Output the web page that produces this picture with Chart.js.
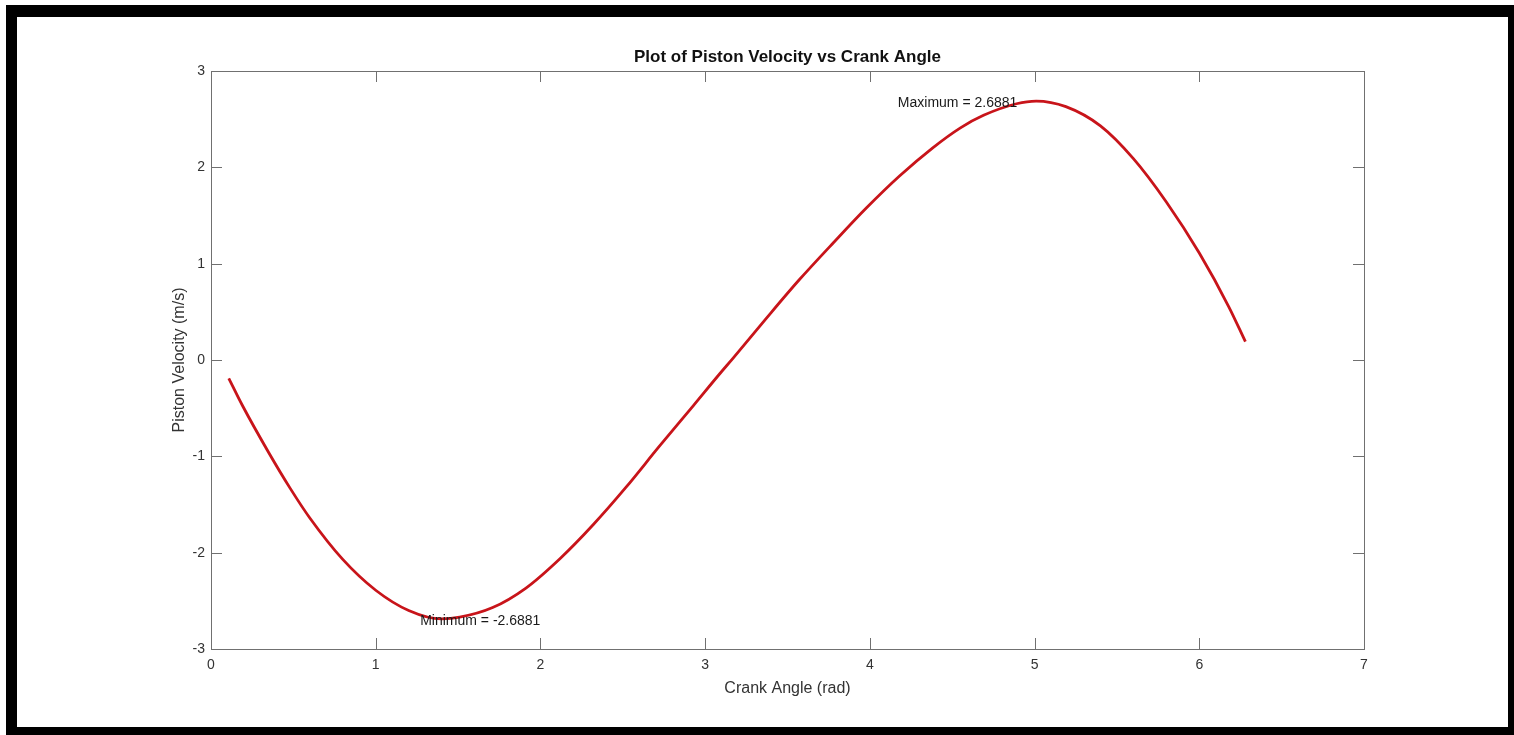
<!DOCTYPE html>
<html>
<head>
<meta charset="utf-8">
<script src="https://cdn.jsdelivr.net/npm/chart.js@4/dist/chart.umd.min.js"></script>
<style>
    html, body { margin: 0; padding: 0; background: #fff; }
    #wrap { position: relative; width: 1514px; height: 735px; overflow: hidden; }
    #plot { position: absolute; left: 0; top: 0; }
    #frame {
        position: absolute; left: 6px; top: 5px; width: 1508px; height: 730px;
        box-sizing: border-box;
        border-top: 12px solid #000; border-left: 11px solid #000;
        border-right: 6px solid #000; border-bottom: 8px solid #000;
        pointer-events: none;
    }
</style>
</head>
<body>
<div id="wrap">
    <canvas id="plot" width="1514" height="735"></canvas>
    <div id="frame"></div>
</div>
<script>
// values
const crankAngle = [0.108, 0.19, 0.35, 0.48, 0.6, 0.8, 1.0, 1.2, 1.4, 1.51, 1.71, 1.91, 2.12, 2.32, 2.52, 2.72, 2.93, 3.09, 3.17, 3.37, 3.57, 3.78, 3.98, 4.18, 4.38, 4.55, 4.69, 4.89, 5.01, 5.19, 5.4, 5.6, 5.8, 6.0, 6.18, 6.28];
const pistonVelocity = [-0.19, -0.47, -0.96, -1.33, -1.64, -2.07, -2.39, -2.6, -2.688, -2.67, -2.57, -2.37, -2.06, -1.71, -1.32, -0.9, -0.47, -0.14, 0.02, 0.43, 0.83, 1.22, 1.58, 1.91, 2.2, 2.41, 2.54, 2.66, 2.688, 2.63, 2.43, 2.09, 1.64, 1.11, 0.55, 0.19];
const xTicks = [0, 1, 2, 3, 4, 5, 6, 7];
const yTicks = [-3, -2, -1, 0, 1, 2, 3];
const chartTitle = "Plot of Piston Velocity vs Crank Angle";
const notes = [
    { text: "Minimum = -2.6881", x: 1.27, y: -2.71 },
    { text: "Maximum = 2.6881", x: 4.17, y: 2.67 }
];

const FONT = "'Liberation Sans', Arial, Helvetica, sans-serif";
const points = crankAngle.map((a, i) => ({ x: a, y: pistonVelocity[i] }));

// MATLAB style box with ticks pointing inwards, title over the axes, text labels
const boxPlugin = {
    id: "box",
    afterDatasetsDraw(chart) {
        const { ctx, chartArea: a, scales } = chart;
        const len = 11;
        ctx.save();
        ctx.strokeStyle = "#707070";
        ctx.lineWidth = 1;
        ctx.strokeRect(a.left + 0.5, a.top + 0.5, a.right - a.left, a.bottom - a.top);
        ctx.beginPath();
        xTicks.forEach(v => {
            const px = Math.round(scales.x.getPixelForValue(v)) + 0.5;
            ctx.moveTo(px, a.bottom); ctx.lineTo(px, a.bottom - len);
            ctx.moveTo(px, a.top); ctx.lineTo(px, a.top + len);
        });
        yTicks.forEach(v => {
            const py = Math.round(scales.y.getPixelForValue(v)) + 0.5;
            ctx.moveTo(a.left, py); ctx.lineTo(a.left + len, py);
            ctx.moveTo(a.right, py); ctx.lineTo(a.right - len, py);
        });
        ctx.stroke();

        ctx.fillStyle = "#111";
        ctx.font = "bold 17px " + FONT;
        ctx.textAlign = "center";
        ctx.textBaseline = "middle";
        ctx.fillText(chartTitle, (a.left + a.right) / 2, a.top - 14);

        ctx.fillStyle = "#1a1a1a";
        ctx.font = "14px " + FONT;
        ctx.textAlign = "left";
        notes.forEach(n => {
            ctx.fillText(n.text, scales.x.getPixelForValue(n.x), scales.y.getPixelForValue(n.y));
        });
        ctx.restore();
    }
};

new Chart(document.getElementById("plot"), {
    type: "line",
    data: {
        datasets: [{
            data: points,
            borderColor: "#c8141a",
            borderWidth: 2.8,
            pointRadius: 0,
            fill: false,
            cubicInterpolationMode: "monotone"
        }]
    },
    options: {
        responsive: false,
        animation: false,
        layout: { padding: { left: 0, top: 71, right: 150, bottom: 0 } },
        plugins: {
            legend: { display: false },
            tooltip: { enabled: false },
            title: { display: false }
        },
        scales: {
            x: {
                type: "linear",
                min: 0, max: 7,
                afterFit: s => { s.height = 86; },
                afterBuildTicks: s => { s.ticks = xTicks.map(v => ({ value: v })); },
                grid: { display: false, drawTicks: false },
                border: { display: false },
                ticks: { color: "#333", padding: 8, font: { family: FONT, size: 14 } },
                title: {
                    display: true, text: "Crank Angle (rad)", color: "#333",
                    font: { family: FONT, size: 16 }, padding: { top: 0, bottom: 36.4 }
                }
            },
            y: {
                min: -3, max: 3,
                afterFit: s => { s.width = 211; },
                afterBuildTicks: s => { s.ticks = yTicks.map(v => ({ value: v })); },
                grid: { display: false, drawTicks: false },
                border: { display: false },
                ticks: { color: "#333", padding: 6, font: { family: FONT, size: 14 } },
                title: {
                    display: true, text: "Piston Velocity (m/s)", color: "#333",
                    font: { family: FONT, size: 16 }, padding: { top: 170.4, bottom: 0 }
                }
            }
        }
    },
    plugins: [boxPlugin]
});
</script>
</body>
</html>
